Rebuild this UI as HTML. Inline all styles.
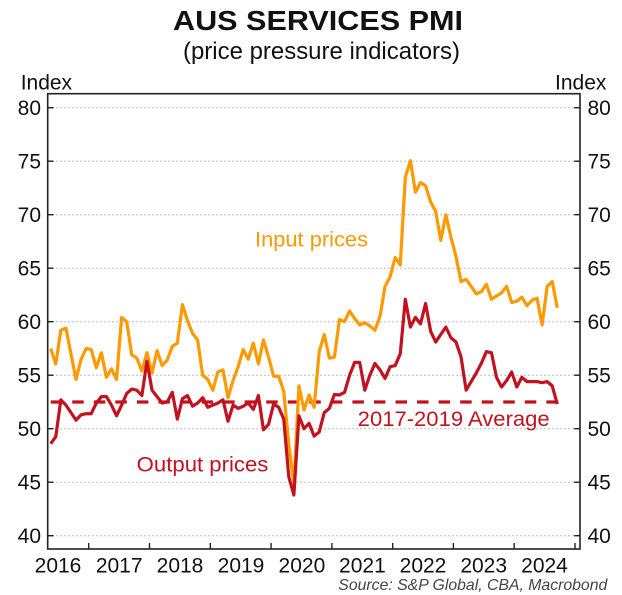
<!DOCTYPE html>
<html><head><meta charset="utf-8"><style>
html,body{margin:0;padding:0;background:#fff;}
svg{display:block;font-family:"Liberation Sans",Arial,sans-serif;}
</style></head><body>
<svg width="622" height="595" viewBox="0 0 622 595" xmlns="http://www.w3.org/2000/svg">
<rect width="622" height="595" fill="#fff"/>
<text x="173" y="30" font-size="28" font-weight="bold" fill="#111" textLength="290" lengthAdjust="spacingAndGlyphs">AUS SERVICES PMI</text>
<text x="183" y="59" font-size="24" fill="#111" textLength="277" lengthAdjust="spacingAndGlyphs">(price pressure indicators)</text>
<text x="20.7" y="89.3" font-size="21" fill="#111">Index</text>
<text x="555" y="89.3" font-size="21" fill="#111">Index</text>
<g stroke="#bdbdbd" stroke-width="1" stroke-dasharray="2 2">
<line x1="48" x2="580" y1="107.7" y2="107.7"/>
<line x1="48" x2="580" y1="161.2" y2="161.2"/>
<line x1="48" x2="580" y1="214.7" y2="214.7"/>
<line x1="48" x2="580" y1="268.2" y2="268.2"/>
<line x1="48" x2="580" y1="321.7" y2="321.7"/>
<line x1="48" x2="580" y1="375.2" y2="375.2"/>
<line x1="48" x2="580" y1="428.7" y2="428.7"/>
<line x1="48" x2="580" y1="482.2" y2="482.2"/>
<line x1="48" x2="580" y1="535.7" y2="535.7"/>
</g>
<g font-size="21" fill="#111" text-anchor="end">
<text x="41" y="115">80</text><text x="41" y="168.5">75</text><text x="41" y="222">70</text>
<text x="41" y="275.5">65</text><text x="41" y="329">60</text><text x="41" y="382.5">55</text>
<text x="41" y="436">50</text><text x="41" y="489.5">45</text><text x="41" y="543">40</text>
</g>
<g font-size="21" fill="#111">
<text x="587.5" y="115">80</text><text x="587.5" y="168.5">75</text><text x="587.5" y="222">70</text>
<text x="587.5" y="275.5">65</text><text x="587.5" y="329">60</text><text x="587.5" y="382.5">55</text>
<text x="587.5" y="436">50</text><text x="587.5" y="489.5">45</text><text x="587.5" y="543">40</text>
</g>
<g font-size="21" fill="#111" text-anchor="middle">
<text x="58" y="572.7">2016</text><text x="119.2" y="572.7">2017</text><text x="180" y="572.7">2018</text>
<text x="241" y="572.7">2019</text><text x="301.9" y="572.7">2020</text><text x="362.4" y="572.7">2021</text>
<text x="423" y="572.7">2022</text><text x="483.7" y="572.7">2023</text><text x="544.5" y="572.7">2024</text>
</g>
<line x1="50.7" x2="558" y1="402" y2="402" stroke="#C1121F" stroke-width="3.3" stroke-dasharray="11.5 10.05"/>
<g transform="translate(50.7,963.7) scale(5.066,-10.7)">
<polyline fill="none" stroke="#FF9900" stroke-width="3.2" stroke-linejoin="round" vector-effect="non-scaling-stroke" points="0,57.5 1,56.05 2,59.2 3,59.4 4,57.0 5,54.6 6,56.5 7,57.5 8,57.4 9,55.7 10,57.1 11,54.8 12,55.6 13,54.6 14,60.4 15,60.0 16,56.9 17,56.6 18,55.4 19,57.1 20,55.2 21,57.3 22,55.9 23,56.4 24,57.7 25,58.0 26,61.6 27,60.1 28,58.9 29,58.3 30,55.0 31,54.6 32,53.6 33,55.3 34,55.5 35,52.9 36,54.5 37,55.8 38,57.4 39,56.5 40,58.0 41,56.05 42,58.3 43,56.7 44,54.9 45,54.9 46,53.5 47,48.5 48,44.8 49,54.0 50,51.75 51,53.15 52,52.0 53,57.2 54,58.8 55,56.6 56,56.7 57,60.2 58,60.0 59,61.0 60,60.3 61,59.7 62,59.9 63,59.6 64,59.2 65,60.5 66,63.3 67,64.2 68,66.0 69,65.3 70,73.5 71,75.05 72,72.1 73,73.0 74,72.7 75,71.2 76,70.3 77,67.6 78,70.0 79,67.9 80,66.1 81,63.75 82,63.96 83,63.3 84,62.6 85,62.8 86,63.5 87,62.1 88,62.4 89,62.7 90,63.3 91,61.8 92,61.9 93,62.3 94,61.5 95,62.0 96,62.2 97,59.7 98,63.3 99,63.75 100,61.3"/>
<polyline fill="none" stroke="#C1121F" stroke-width="3.2" stroke-linejoin="round" vector-effect="non-scaling-stroke" points="0,48.6 1,49.25 2,52.7 3,52.2 4,51.5 5,50.8 6,51.3 7,51.4 8,51.4 9,52.4 10,53.0 11,53.0 12,52.2 13,51.2 14,52.2 15,53.3 16,53.7 17,53.6 18,53.1 19,56.3 20,53.6 21,53.0 22,52.4 23,52.5 24,53.4 25,50.9 26,52.8 27,53.1 28,52.1 29,52.4 30,52.9 31,52.0 32,52.2 33,52.4 34,52.7 35,50.7 36,52.2 37,51.9 38,52.1 39,52.4 40,51.8 41,53.1 42,49.9 43,50.4 44,52.3 45,52.0 46,50.9 47,45.5 48,43.8 49,51.2 50,50.0 51,50.5 52,49.3 53,49.7 54,51.5 55,51.9 56,53.2 57,53.15 58,53.4 59,55.0 60,56.2 61,56.2 62,53.6 63,55.0 64,56.1 65,55.5 66,54.7 67,55.8 68,55.9 69,57.0 70,62.1 71,59.5 72,60.4 73,59.8 74,61.7 75,59.1 76,58.1 77,58.8 78,59.5 79,58.5 80,58.1 81,56.7 82,53.6 83,54.4 84,55.2 85,56.1 86,57.2 87,57.1 88,54.8 89,53.9 90,54.5 91,55.3 92,53.9 93,54.8 94,54.4 95,54.4 96,54.4 97,54.3 98,54.4 99,54.0 100,52.3"/>
</g>
<text x="255" y="246.7" font-size="21" fill="#FF9900" textLength="113" lengthAdjust="spacingAndGlyphs">Input prices</text>
<text x="136.7" y="471.7" font-size="21" fill="#C1121F" textLength="131.7" lengthAdjust="spacingAndGlyphs">Output prices</text>
<text x="357.7" y="426" font-size="21" fill="#C1121F" textLength="192" lengthAdjust="spacingAndGlyphs">2017-2019 Average</text>
<rect x="47.7" y="93.7" width="532.3" height="455.3" fill="none" stroke="#222" stroke-width="1.6"/>
<g stroke="#222" stroke-width="1.4">
<line x1="47.7" x2="53.5" y1="107.7" y2="107.7"/><line x1="47.7" x2="53.5" y1="161.2" y2="161.2"/>
<line x1="47.7" x2="53.5" y1="214.7" y2="214.7"/><line x1="47.7" x2="53.5" y1="268.2" y2="268.2"/>
<line x1="47.7" x2="53.5" y1="321.7" y2="321.7"/><line x1="47.7" x2="53.5" y1="375.2" y2="375.2"/>
<line x1="47.7" x2="53.5" y1="428.7" y2="428.7"/><line x1="47.7" x2="53.5" y1="482.2" y2="482.2"/>
<line x1="47.7" x2="53.5" y1="535.7" y2="535.7"/>
<line x1="574.2" x2="580" y1="107.7" y2="107.7"/><line x1="574.2" x2="580" y1="161.2" y2="161.2"/>
<line x1="574.2" x2="580" y1="214.7" y2="214.7"/><line x1="574.2" x2="580" y1="268.2" y2="268.2"/>
<line x1="574.2" x2="580" y1="321.7" y2="321.7"/><line x1="574.2" x2="580" y1="375.2" y2="375.2"/>
<line x1="574.2" x2="580" y1="428.7" y2="428.7"/><line x1="574.2" x2="580" y1="482.2" y2="482.2"/>
<line x1="574.2" x2="580" y1="535.7" y2="535.7"/>
<line x1="88.7" x2="88.7" y1="543" y2="549"/><line x1="149.5" x2="149.5" y1="543" y2="549"/>
<line x1="210.3" x2="210.3" y1="543" y2="549"/><line x1="271.1" x2="271.1" y1="543" y2="549"/>
<line x1="331.9" x2="331.9" y1="543" y2="549"/><line x1="392.7" x2="392.7" y1="543" y2="549"/>
<line x1="453.4" x2="453.4" y1="543" y2="549"/><line x1="514.2" x2="514.2" y1="543" y2="549"/>
<line x1="575" x2="575" y1="543" y2="549"/>
</g>
<text x="338.3" y="590" font-size="16" font-style="italic" fill="#444" textLength="269" lengthAdjust="spacingAndGlyphs">Source: S&amp;P Global, CBA, Macrobond</text>
</svg>
</body></html>
